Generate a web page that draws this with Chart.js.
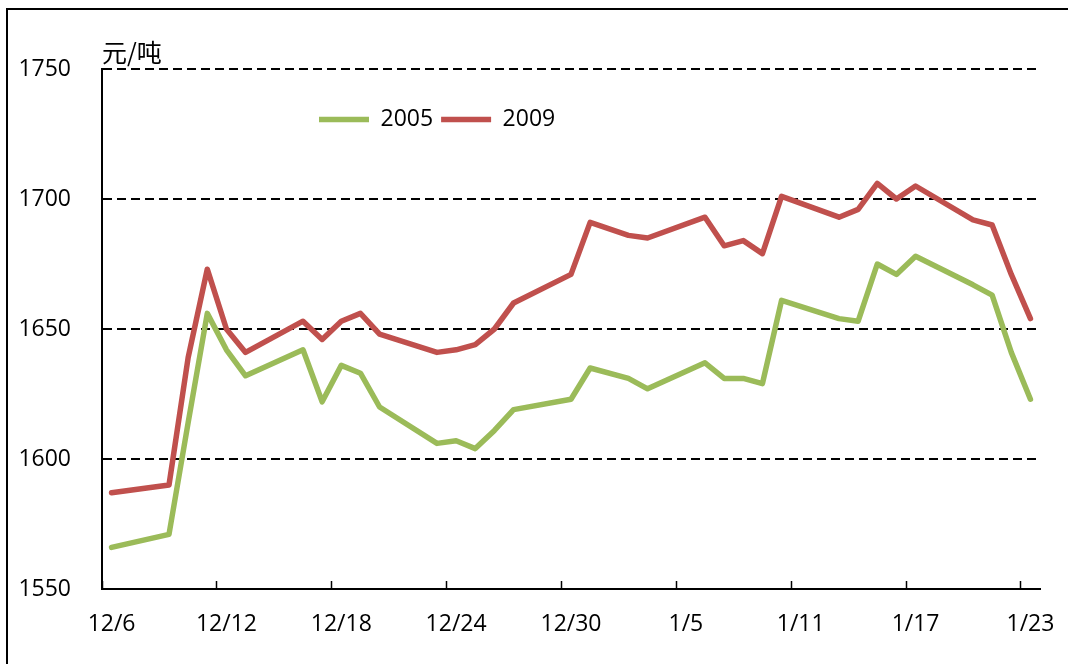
<!DOCTYPE html>
<html>
<head>
<meta charset="utf-8">
<script src="https://cdn.jsdelivr.net/npm/chart.js@4.4.1/dist/chart.umd.min.js"></script>
<style>
html, body { margin: 0; background: #fff; overflow: hidden; }
#wrap { position: relative; width: 1068px; height: 664px; overflow: hidden; }
#chart { display: block; }
#frame { position: absolute; left: 6px; top: 8px; width: 1200px; height: 800px; border-left: 2px solid #000; border-top: 2px solid #000; pointer-events: none; }
</style>
</head>
<body>
<div id="wrap">
  <canvas id="chart" width="1068" height="664"></canvas>
  <div id="frame"></div>
</div>
<script>
const dates = [
  '12/6','12/7','12/8','12/9','12/10','12/11','12/12','12/13','12/14','12/15',
  '12/16','12/17','12/18','12/19','12/20','12/21','12/22','12/23','12/24','12/25',
  '12/26','12/27','12/28','12/29','12/30','12/31','1/1','1/2','1/3','1/4',
  '1/5','1/6','1/7','1/8','1/9','1/10','1/11','1/12','1/13','1/14',
  '1/15','1/16','1/17','1/18','1/19','1/20','1/21','1/22','1/23'
]
// null = no trading that day, the line just runs across
const price2005 = [
  1566,null,null,1571,1614,1656,1642,
  1632,null,null,1642,1622,1636,1633,
  1620,null,null,1606,1607,1604,1611,
  1619,null,null,1623,1635,null,1631,
  1627,null,null,1637,1631,1631,1629,
  1661,null,null,1654,1653,1675,1671,
  1678,null,null,1667,1663,1641,1623
]
const price2009 = [
  1587,null,null,1590,1639,1673,1650,
  1641,null,null,1653,1646,1653,1656,
  1648,null,null,1641,1642,1644,1650,
  1660,null,null,1671,1691,null,1686,
  1685,null,null,1693,1682,1684,1679,
  1701,null,null,1693,1696,1706,1700,
  1705,null,null,1692,1690,1671,1654
]
const seriesNames = ['2005', '2009']
const yMin = 1550
const yMax = 1750
const yStep = 50
const labelEvery = 6

Chart.defaults.font.family = '"Open Sans", "Noto Sans CJK SC", sans-serif'
Chart.defaults.font.size = 23
Chart.defaults.color = '#000'

// legend takes ~no room on top, then gets moved inside the plot
const moveLegend = {
  id: 'moveLegend',
  afterLayout(chart) {
    const lg = chart.legend
    lg.left = 311
    lg.right = chart.chartArea.right
    lg.top = 100
    lg.bottom = 152
    lg.width = lg.right - lg.left
    lg.height = lg.bottom - lg.top
  }
}

const ctx = document.getElementById('chart').getContext('2d')
const myChart = new Chart(ctx, {
  type: 'line',
  data: {
    labels: dates,
    datasets: [{
      label: seriesNames[0],
      data: price2005,
      borderColor: '#9BBB59',
      backgroundColor: '#9BBB59',
      borderWidth: 5.5,
      pointRadius: 0,
      pointHoverRadius: 0,
      spanGaps: true,
      tension: 0,
      borderCapStyle: 'round',
      borderJoinStyle: 'round'
    }, {
      label: seriesNames[1],
      data: price2009,
      borderColor: '#C0504D',
      backgroundColor: '#C0504D',
      borderWidth: 5.5,
      pointRadius: 0,
      pointHoverRadius: 0,
      spanGaps: true,
      tension: 0,
      borderCapStyle: 'round',
      borderJoinStyle: 'round'
    }]
  },
  options: {
    responsive: false,
    animation: false,
    devicePixelRatio: 1,
    events: [],
    layout: { padding: { left: 0, right: 28, top: 37, bottom: 0 } },
    plugins: {
      tooltip: { enabled: false },
      title: {
        display: true,
        text: '元/吨',
        position: 'top',
        align: 'start',
        fullSize: false,
        color: '#000',
        font: { size: 25, weight: 'normal', family: '"Noto Sans CJK SC", sans-serif' },
        padding: { top: 0, bottom: 1 }
      },
      legend: {
        position: 'top',
        align: 'start',
        maxHeight: 1,
        labels: {
          usePointStyle: true,
          pointStyle: 'line',
          pointStyleWidth: 50,
          padding: 8,
          font: { size: 23 }
        }
      }
    },
    scales: {
      x: {
        offset: true,
        afterFit: (s) => {
          s.height = 75
          s.paddingLeft = 0
          s.paddingRight = 0
        },
        grid: {
          offset: true,
          drawOnChartArea: false,
          drawTicks: true,
          tickLength: -8,
          tickWidth: 1.5,
          tickColor: (c) => (c.index % labelEvery === 0 ? '#000' : 'rgba(0,0,0,0)')
        },
        border: { display: true, color: '#000', width: 2 },
        ticks: {
          autoSkip: false,
          maxRotation: 0,
          minRotation: 0,
          padding: 30,
          callback: function (value, index) {
            return index % labelEvery === 0 ? this.getLabelForValue(value) : ''
          }
        }
      },
      y: {
        min: yMin,
        max: yMax,
        afterFit: (s) => { s.width = 102 },
        grid: {
          drawTicks: false,
          lineWidth: 2,
          color: (c) => (c.tick && c.tick.value === yMin ? 'rgba(0,0,0,0)' : '#000')
        },
        border: { display: true, color: '#000', width: 2, dash: [9, 5] },
        ticks: { stepSize: yStep, padding: 31, callback: (v) => String(v) }
      }
    }
  },
  plugins: [moveLegend]
})
</script>
</body>
</html>
